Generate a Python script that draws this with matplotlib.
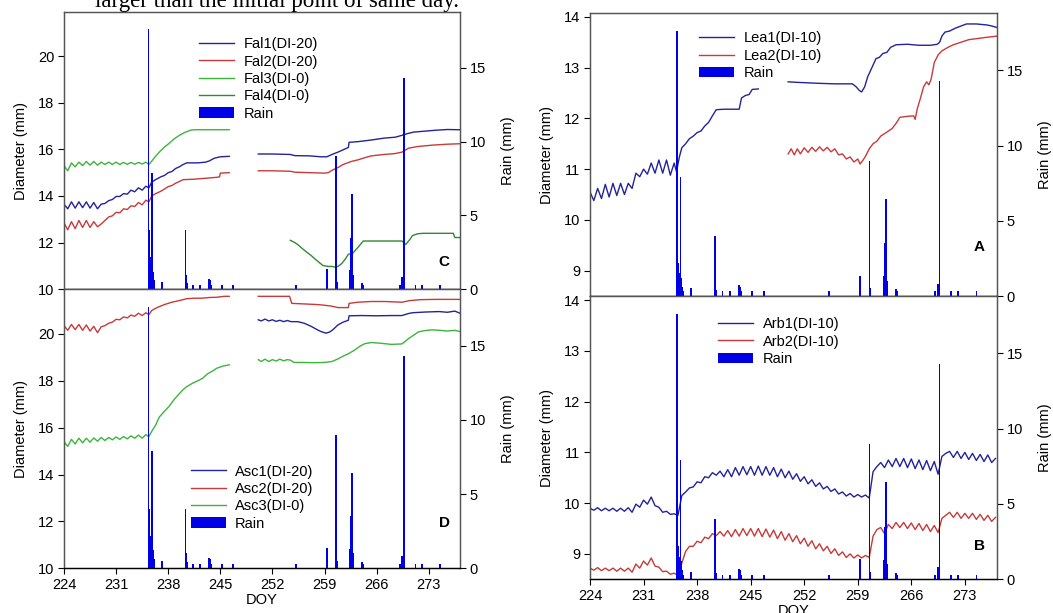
import matplotlib
matplotlib.use('Agg')
import matplotlib.pyplot as plt
import numpy as np

plt.rcParams['font.family'] = ['Liberation Sans', 'DejaVu Sans']
plt.rcParams['font.size'] = 10.5

nan = np.nan

# rain (mm), shared by all four panels
rain_doy = [235.35, 235.45, 235.55, 235.65, 235.75, 235.85, 235.95, 236.05, 236.15, 237.2,
            240.3, 240.42, 240.52, 241.3, 242.3, 243.5, 243.62, 243.8, 245.2, 246.7,
            255.2, 259.3, 260.55, 260.68, 262.45, 262.58, 262.7, 262.82, 264.0, 264.2,
            269.1, 269.45, 269.7, 271.2, 272.1, 274.5]
rain_mm = [17.6, 4.0, 2.2, 1.5, 1.0, 7.9, 1.2, 0.6, 0.3, 0.5,
           4.0, 1.0, 0.4, 0.3, 0.3, 0.7, 0.6, 0.3, 0.3, 0.3,
           0.3, 1.35, 9.0, 0.5, 1.3, 3.5, 6.45, 1.0, 0.45, 0.3,
           0.3, 0.8, 14.3, 0.3, 0.3, 0.3]

# ---- panel C: Fal ----
fal1_doy = [224.0, 224.5, 225.0, 225.5, 226.0, 226.5, 227.0, 227.5, 228.0, 228.5, 229.0, 229.5,
            230.0, 230.5, 231.0, 231.5, 232.0, 232.5, 233.0, 233.5, 234.0, 234.5, 235.0, 235.4,
            235.8, 236.3, 237.0, 237.5, 238.0, 238.5, 239.0, 239.5, 240.0, 240.5, 242.0, 243.0,
            243.5, 244.2, 245.0, 246.2, 248.0,
            250.1, 252.0, 254.4, 255.0, 257.0, 258.5, 259.3, 260.0, 260.8, 261.5, 262.2, 262.3,
            263.5, 265.3, 267.0, 268.5, 269.4, 270.2, 271.0, 272.5, 274.0, 275.5, 277.2]
fal1 = [13.65, 13.45, 13.75, 13.48, 13.75, 13.50, 13.75, 13.48, 13.72, 13.45, 13.65, 13.68,
        13.80, 13.85, 13.98, 13.98, 14.10, 14.08, 14.25, 14.18, 14.35, 14.25, 14.42, 14.35,
        14.60, 14.70, 14.82, 14.88, 15.00, 15.05, 15.18, 15.25, 15.35, 15.42, 15.42, 15.45,
        15.50, 15.62, 15.68, 15.70, nan,
        15.80, 15.80, 15.78, 15.73, 15.72, 15.68, 15.68, 15.78, 15.88, 15.98, 16.08, 16.30,
        16.33, 16.40, 16.48, 16.52, 16.60, 16.68, 16.74, 16.78, 16.82, 16.85, 16.84]

fal2_doy = [224.0, 224.5, 225.0, 225.5, 226.0, 226.5, 227.0, 227.5, 228.0, 228.5, 229.0, 229.5,
            230.0, 230.5, 231.0, 231.5, 232.0, 232.5, 233.0, 233.5, 234.0, 234.5, 235.0, 235.4,
            235.8, 236.3, 237.0, 237.5, 238.0, 238.5, 239.0, 239.5, 240.0, 241.5, 243.0, 244.5,
            244.9, 245.0, 246.2, 248.0,
            250.1, 252.0, 254.4, 255.0, 257.0, 259.0, 259.5, 260.0, 260.8, 261.5, 262.6, 263.5,
            264.5, 265.3, 267.0, 268.5, 269.4, 270.3, 271.5, 273.5, 275.5, 277.2]
fal2 = [12.85, 12.55, 12.90, 12.60, 12.95, 12.65, 12.95, 12.65, 12.90, 12.68, 12.80, 12.95,
        13.10, 13.15, 13.30, 13.28, 13.45, 13.42, 13.58, 13.55, 13.72, 13.62, 13.82, 13.75,
        14.00, 14.10, 14.20, 14.30, 14.40, 14.45, 14.55, 14.62, 14.70, 14.72, 14.76, 14.80,
        14.82, 14.98, 15.00, nan,
        15.08, 15.08, 15.06, 15.02, 15.00, 14.98, 15.00, 15.10, 15.22, 15.35, 15.48, 15.55,
        15.65, 15.72, 15.78, 15.82, 15.88, 16.05, 16.12, 16.18, 16.22, 16.24]

fal3_doy = [224.0, 224.5, 225.0, 225.5, 226.0, 226.5, 227.0, 227.5, 228.0, 228.5, 229.0, 229.5,
            230.0, 230.5, 231.0, 231.5, 232.0, 232.5, 233.0, 233.5, 234.0, 234.5, 235.0, 235.4,
            235.8, 236.3, 236.8, 237.5, 238.1, 238.8, 239.5, 240.2, 241.0, 241.5, 243.0, 246.2]
fal3 = [15.30, 15.08, 15.42, 15.25, 15.45, 15.30, 15.48, 15.32, 15.48, 15.32, 15.45, 15.35,
        15.45, 15.35, 15.45, 15.35, 15.44, 15.36, 15.44, 15.36, 15.44, 15.37, 15.45, 15.35,
        15.50, 15.70, 15.88, 16.10, 16.25, 16.45, 16.60, 16.72, 16.82, 16.84, 16.84, 16.84]

fal4_doy = [254.4, 254.9, 255.4, 256.0, 256.5, 257.2, 257.8, 258.4, 258.8, 259.5, 260.0, 260.4,
            260.8, 261.3, 261.8, 262.2, 262.8, 263.5, 264.2, 266.0, 268.0, 269.4, 269.9, 270.5,
            270.8, 271.5, 272.2, 274.0, 276.3, 276.5, 277.2]
fal4 = [12.10, 12.02, 11.92, 11.75, 11.62, 11.45, 11.28, 11.12, 11.02, 10.98, 10.98, 10.95,
        10.98, 11.10, 11.30, 11.50, 11.55, 11.80, 12.07, 12.07, 12.07, 12.07, 11.92, 12.15,
        12.30, 12.38, 12.40, 12.40, 12.40, 12.22, 12.22]

# ---- panel D: Asc ----
asc1_doy = [250.1, 250.5, 251.0, 251.5, 252.0, 252.5, 253.0, 253.5, 254.0, 254.5, 255.4, 256.3,
            257.2, 258.0, 258.5, 259.2, 259.7, 260.1, 260.8, 261.5, 262.2, 262.3, 264.0, 266.0,
            268.0, 269.4, 270.2, 270.8, 272.5, 274.4, 275.5, 276.5, 277.2]
asc1 = [20.60, 20.55, 20.63, 20.55, 20.60, 20.53, 20.58, 20.52, 20.57, 20.52, 20.52, 20.45,
        20.32, 20.18, 20.10, 20.03, 20.08, 20.17, 20.38, 20.50, 20.58, 20.77, 20.78, 20.77,
        20.78, 20.78, 20.86, 20.90, 20.93, 20.95, 20.92, 20.97, 20.88]

asc2_doy = [224.0, 224.5, 225.0, 225.5, 226.0, 226.5, 227.0, 227.5, 228.0, 228.5, 229.0, 229.5,
            230.0, 230.5, 231.0, 231.5, 232.0, 232.5, 233.0, 233.5, 234.0, 234.5, 235.0, 235.4,
            235.8, 236.5, 237.5, 238.5, 239.5, 240.5, 241.5, 242.5, 243.5, 244.5, 245.5, 246.2, 248.0,
            250.1, 252.0, 254.3, 254.6, 256.0, 258.0, 259.0, 260.0, 260.8, 262.2, 262.3, 263.5,
            265.3, 267.0, 269.4, 270.5, 272.0, 274.0, 277.2]
asc2 = [20.35, 20.15, 20.40, 20.18, 20.40, 20.15, 20.38, 20.12, 20.32, 20.05, 20.30, 20.35,
        20.45, 20.50, 20.62, 20.60, 20.72, 20.68, 20.80, 20.75, 20.88, 20.78, 20.90, 20.82,
        21.00, 21.12, 21.25, 21.35, 21.42, 21.50, 21.52, 21.52, 21.55, 21.56, 21.60, 21.60, nan,
        21.60, 21.60, 21.60, 21.30, 21.28, 21.25, 21.22, 21.18, 21.12, 21.12, 21.30, 21.35,
        21.38, 21.38, 21.35, 21.42, 21.46, 21.47, 21.47]

asc3_doy = [224.0, 224.5, 225.0, 225.5, 226.0, 226.5, 227.0, 227.5, 228.0, 228.5, 229.0, 229.5,
            230.0, 230.5, 231.0, 231.5, 232.0, 232.5, 233.0, 233.5, 234.0, 234.5, 235.0, 235.4,
            235.8, 236.3, 236.8, 237.5, 238.1, 238.8, 239.5, 240.0, 240.5, 241.3, 242.0, 242.6,
            243.3, 244.0, 244.5, 245.3, 246.2, 248.0,
            250.1, 250.5, 251.0, 251.5, 252.0, 252.5, 253.0, 253.5, 254.0, 254.4, 254.9, 256.0,
            257.5, 259.0, 260.0, 260.8, 261.5, 262.2, 263.1, 263.8, 264.4, 265.3, 266.5, 268.0,
            269.4, 270.3, 271.0, 271.6, 272.5, 273.5, 274.5, 275.5, 276.5, 277.2]
asc3 = [15.40, 15.20, 15.50, 15.30, 15.55, 15.35, 15.55, 15.38, 15.56, 15.42, 15.58, 15.45,
        15.58, 15.48, 15.60, 15.50, 15.62, 15.52, 15.65, 15.55, 15.68, 15.55, 15.70, 15.62,
        15.85, 16.10, 16.45, 16.70, 16.90, 17.20, 17.45, 17.62, 17.75, 17.90, 18.00, 18.10,
        18.30, 18.42, 18.53, 18.62, 18.68, nan,
        18.90, 18.82, 18.92, 18.82, 18.90, 18.84, 18.92, 18.85, 18.90, 18.88, 18.78, 18.78,
        18.77, 18.78, 18.82, 18.93, 19.05, 19.15, 19.32, 19.48, 19.58, 19.63, 19.60, 19.55,
        19.57, 19.80, 19.95, 20.08, 20.14, 20.17, 20.15, 20.12, 20.15, 20.10]

# ---- panel A: Lea ----
lea1_doy = [224.0, 224.5, 225.0, 225.5, 226.0, 226.5, 227.0, 227.5, 228.0, 228.5, 229.0, 229.5,
            230.0, 230.5, 231.0, 231.5, 232.0, 232.5, 233.0, 233.5, 234.0, 234.5, 235.0, 235.3,
            235.7, 236.0, 236.5, 237.0, 237.5, 238.0, 238.5, 239.0, 239.5, 240.0, 240.5, 241.5,
            242.5, 243.5, 243.8, 244.3, 244.8, 245.2, 246.0, 248.0,
            249.9, 251.0, 252.5, 254.0, 256.0, 258.3, 258.8, 259.2, 259.5, 259.9, 260.3, 260.7,
            261.0, 261.4, 261.8, 262.3, 262.8, 263.3, 264.0, 265.5, 267.0, 268.5, 269.4, 269.7,
            270.0, 270.4, 271.0, 271.8, 272.5, 273.2, 274.5, 275.9, 276.5, 277.2]
lea1 = [10.55, 10.38, 10.62, 10.42, 10.70, 10.45, 10.72, 10.48, 10.72, 10.50, 10.72, 10.62,
        10.92, 10.85, 11.00, 10.90, 11.12, 10.92, 11.18, 10.92, 11.18, 10.88, 11.12, 10.95,
        11.25, 11.42, 11.50, 11.60, 11.65, 11.72, 11.75, 11.85, 11.92, 12.05, 12.17, 12.18,
        12.18, 12.18, 12.40, 12.45, 12.47, 12.57, 12.58, nan,
        12.72, 12.71, 12.70, 12.69, 12.68, 12.68, 12.62, 12.55, 12.52, 12.62, 12.82, 12.95,
        13.05, 13.18, 13.20, 13.28, 13.30, 13.40, 13.45, 13.46, 13.44, 13.44, 13.46, 13.50,
        13.62, 13.70, 13.72, 13.78, 13.82, 13.86, 13.86, 13.84, 13.82, 13.79]

lea2_doy = [249.9, 250.3, 250.7, 251.1, 251.5, 252.0, 252.5, 253.0, 253.5, 254.0, 254.5, 255.0,
            255.5, 256.0, 256.5, 257.0, 257.5, 258.0, 258.5, 259.0, 259.3, 259.7, 260.0, 260.5,
            261.0, 261.5, 262.0, 262.5, 263.0, 263.5, 264.0, 264.5, 265.5, 266.3, 266.5, 266.8,
            267.2, 267.6, 268.0, 268.3, 268.6, 269.0, 269.5, 270.0, 270.8, 271.5, 272.5, 273.5,
            275.0, 276.0, 277.2]
lea2 = [11.30, 11.40, 11.28, 11.40, 11.30, 11.42, 11.33, 11.43, 11.35, 11.44, 11.36, 11.43,
        11.34, 11.40, 11.28, 11.30, 11.20, 11.24, 11.14, 11.20, 11.10, 11.18, 11.25, 11.40,
        11.50, 11.55, 11.65, 11.70, 11.75, 11.80, 11.90, 12.02, 12.04, 12.05, 11.98, 12.20,
        12.40, 12.62, 12.72, 12.66, 12.78, 13.10, 13.25, 13.33, 13.40, 13.45, 13.50, 13.55,
        13.58, 13.60, 13.62]

# ---- panel B: Arb (half-day readings) ----
arb_doy = [224.0 + 0.5 * i for i in range(107)]
arb1 = [9.90, 9.86, 9.91, 9.85, 9.90, 9.85, 9.90, 9.84, 9.90, 9.84, 9.91, 9.82,
        9.98, 9.92, 10.06, 9.98, 10.12, 9.95, 9.92, 9.82, 9.84, 9.78, 9.79, 9.76,
        10.15, 10.22, 10.30, 10.32, 10.42, 10.40, 10.52, 10.50, 10.60, 10.55, 10.63, 10.52,
        10.66, 10.52, 10.70, 10.55, 10.72, 10.56, 10.72, 10.55, 10.73, 10.55, 10.72, 10.55,
        10.70, 10.52, 10.67, 10.50, 10.63, 10.47, 10.58, 10.43, 10.52, 10.38, 10.46, 10.33,
        10.40, 10.28, 10.33, 10.23, 10.28, 10.18, 10.22, 10.14, 10.19, 10.12, 10.17, 10.12,
        10.16, 10.10, 10.62, 10.72, 10.80, 10.70, 10.85, 10.72, 10.88, 10.72, 10.88, 10.70,
        10.87, 10.68, 10.85, 10.66, 10.84, 10.64, 10.82, 10.57, 10.92, 10.98, 11.02, 10.90,
        11.02, 10.88, 11.00, 10.86, 10.98, 10.84, 10.96, 10.82, 10.95, 10.80, 10.88]
arb2 = [8.72, 8.68, 8.73, 8.67, 8.72, 8.67, 8.72, 8.66, 8.72, 8.66, 8.72, 8.64,
        8.80, 8.72, 8.86, 8.78, 8.92, 8.76, 8.74, 8.65, 8.66, 8.60, 8.62, 8.58,
        8.82, 9.05, 9.15, 9.15, 9.25, 9.22, 9.33, 9.30, 9.40, 9.36, 9.44, 9.35,
        9.46, 9.34, 9.48, 9.35, 9.50, 9.36, 9.50, 9.35, 9.50, 9.34, 9.49, 9.33,
        9.47, 9.30, 9.44, 9.27, 9.40, 9.24, 9.36, 9.20, 9.31, 9.15, 9.26, 9.10,
        9.20, 9.06, 9.15, 9.01, 9.10, 8.97, 9.04, 8.93, 9.00, 8.92, 8.98, 8.92,
        8.97, 8.93, 9.35, 9.48, 9.52, 9.40, 9.58, 9.50, 9.62, 9.52, 9.62, 9.50,
        9.61, 9.48, 9.60, 9.46, 9.58, 9.44, 9.56, 9.42, 9.70, 9.76, 9.82, 9.72,
        9.82, 9.70, 9.80, 9.70, 9.80, 9.68, 9.78, 9.66, 9.76, 9.64, 9.72]

doy_ticks = [224, 231, 238, 245, 252, 259, 266, 273]
rain_ticks = [0, 5, 10, 15]

BLUE = '#23239a'
RED = '#c83a3a'
LGREEN = '#3db43d'
DGREEN = '#2f8a2f'
RAINC = '#0000e6'
SPINE = '#555555'

W, H = 1053, 613
fig = plt.figure(figsize=(W / 100, H / 100), dpi=100)


def rect(x0, y0, x1, y1):
    return [x0 / W, 1 - y1 / H, (x1 - x0) / W, (y1 - y0) / H]


def panel(r, ylim, yticks, show_x, letter, lxy):
    ax = fig.add_axes(r)
    ax.set_xlim(224, 277.2)
    ax.set_ylim(*ylim)
    ax.set_yticks(yticks)
    ax.set_xticks(doy_ticks)
    if not show_x:
        ax.set_xticklabels([])
    else:
        ax.set_xlabel('DOY', labelpad=1)
    ax.set_ylabel('Diameter (mm)', labelpad=7)
    ax.tick_params(direction='out', length=4, width=0.8, pad=3, labelsize=10.5)
    for s in ax.spines.values():
        s.set_color(SPINE)
        s.set_linewidth(0.9)
    ax.spines['bottom'].set_color('black')
    ax.text(lxy[0], lxy[1], letter, transform=ax.transAxes, fontsize=11,
            fontweight='bold', ha='center', va='center')
    ax2 = ax.twinx()
    ax2.bar(rain_doy, rain_mm, width=0.22, color=RAINC, linewidth=0, label='Rain')
    ax2.set_ylim(0, 18.8)
    ax2.set_yticks(rain_ticks)
    ax2.set_ylabel('Rain (mm)', labelpad=11)
    ax2.tick_params(direction='out', length=4, width=0.8, pad=3, labelsize=10.5)
    for s in ax2.spines.values():
        s.set_color(SPINE)
        s.set_linewidth(0.9)
    ax2.spines['bottom'].set_color('black')
    return ax, ax2


def add_legend(ax, ax2, x, y):
    h1, l1 = ax.get_legend_handles_labels()
    h2, l2 = ax2.get_legend_handles_labels()
    ax.legend(h1 + h2, l1 + l2, loc='upper left', bbox_to_anchor=(x, y),
              frameon=False, fontsize=10.5, handlelength=2.4, handletextpad=0.65,
              labelspacing=0.23, borderpad=0, borderaxespad=0)


lw = 1.0

# C
axC, axC2 = panel(rect(64, 11.7, 460, 289.3), (10, 21.9), [10, 12, 14, 16, 18, 20],
                  False, 'C', (0.96, 0.098))
axC.plot(fal1_doy, fal1, color=BLUE, lw=lw, label='Fal1(DI-20)')
axC.plot(fal2_doy, fal2, color=RED, lw=lw, label='Fal2(DI-20)')
axC.plot(fal3_doy, fal3, color=LGREEN, lw=lw, label='Fal3(DI-0)')
axC.plot(fal4_doy, fal4, color=DGREEN, lw=lw, label='Fal4(DI-0)')
add_legend(axC, axC2, 0.341, 0.908)

# D
axD, axD2 = panel(rect(64, 289.3, 460, 568.3), (10, 21.9), [10, 12, 14, 16, 18, 20],
                  True, 'D', (0.962, 0.163))
axD.plot(asc1_doy, asc1, color=BLUE, lw=lw, label='Asc1(DI-20)')
axD.plot(asc2_doy, asc2, color=RED, lw=lw, label='Asc2(DI-20)')
axD.plot(asc3_doy, asc3, color=LGREEN, lw=lw, label='Asc3(DI-0)')
add_legend(axD, axD2, 0.32, 0.372)

# A
axA, axA2 = panel(rect(590, 13.3, 997, 296), (8.5, 14.07), [9, 10, 11, 12, 13, 14],
                  False, 'A', (0.957, 0.174))
axA.plot(lea1_doy, lea1, color=BLUE, lw=lw, label='Lea1(DI-10)')
axA.plot(lea2_doy, lea2, color=RED, lw=lw, label='Lea2(DI-10)')
add_legend(axA, axA2, 0.268, 0.936)

# B
axB, axB2 = panel(rect(590, 296, 997, 579.3), (8.5, 14.08), [9, 10, 11, 12, 13, 14],
                  True, 'B', (0.958, 0.119))
axB.plot(arb_doy, arb1, color=BLUE, lw=lw, label='Arb1(DI-10)')
axB.plot(arb_doy, arb2, color=RED, lw=lw, label='Arb2(DI-10)')
add_legend(axB, axB2, 0.315, 0.925)

# leftover caption text from the page above the figure
fig.text(95 / W, 1 - 7 / H, 'larger than the initial point of same day.',
         family=['Liberation Serif', 'DejaVu Serif'], fontsize=16.5, ha='left', va='baseline')

fig.savefig('out.png', dpi=100)
